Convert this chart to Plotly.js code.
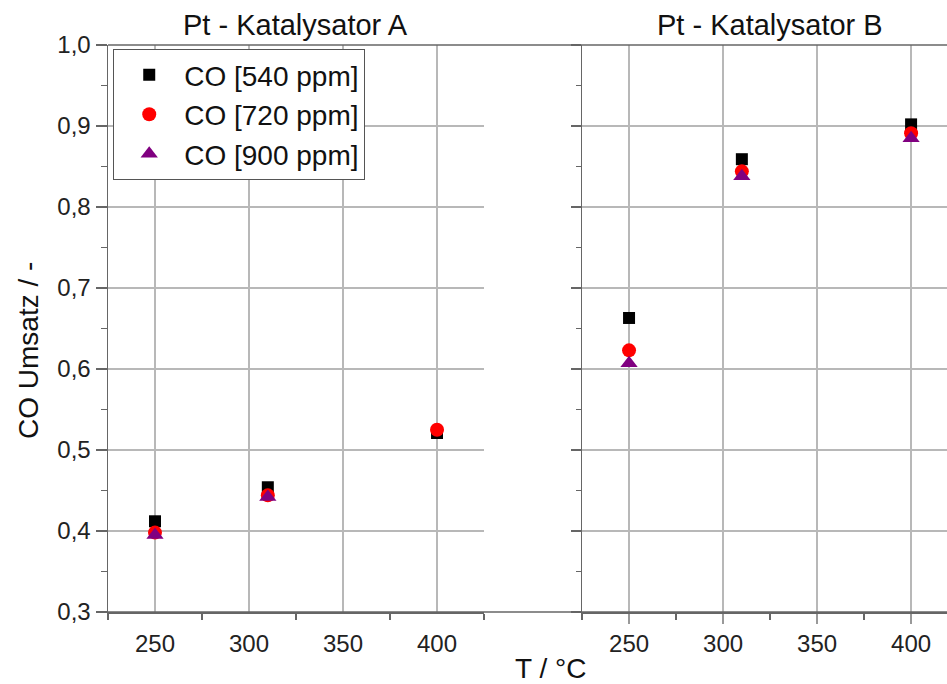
<!DOCTYPE html>
<html>
<head>
<meta charset="utf-8">
<script src="https://cdn.plot.ly/plotly-3.0.1.min.js"></script>
<style>html,body{margin:0;padding:0;background:#fff;}#chart{width:947px;height:684px;}</style>
</head>
<body>
<div id="chart"></div>
<script>
// Temperatures (°C)
const temps = [250, 310, 400];
// Series names
const seriesNames = ['CO [540 ppm]', 'CO [720 ppm]', 'CO [900 ppm]'];
// Pt - Katalysator A
const katA_540 = [0.412, 0.454, 0.521];
const katA_720 = [0.398, 0.444, 0.525];
const katA_900 = [0.395, 0.442, null];
// Pt - Katalysator B
const katB_540 = [0.663, 0.859, 0.902];
const katB_720 = [0.623, 0.844, 0.891];
const katB_900 = [0.607, 0.838, 0.885];
// Panel titles and axis titles
const panelTitles = ['Pt - Katalysator A', 'Pt - Katalysator B'];
const xTitle = 'T / °C';
const yTitle = 'CO Umsatz / -';

const font = 'Liberation Sans, Arial, sans-serif';
const markerStyles = [
  {symbol: 'square', color: '#000000', size: 12},
  {symbol: 'circle', color: '#ff0000', size: 14},
  {symbol: 'triangle-up', color: '#800080', size: 15}
];
const dataA = [katA_540, katA_720, katA_900];
const dataB = [katB_540, katB_720, katB_900];

const traces = [];
dataA.forEach((ys, i) => {
  traces.push({x: temps, y: ys, type: 'scatter', mode: 'markers', name: seriesNames[i],
    marker: {symbol: markerStyles[i].symbol, color: markerStyles[i].color, size: markerStyles[i].size, line: {width: 0}},
    xaxis: 'x', yaxis: 'y', showlegend: true, cliponaxis: false});
});
dataB.forEach((ys, i) => {
  traces.push({x: temps, y: ys, type: 'scatter', mode: 'markers', name: seriesNames[i],
    marker: {symbol: markerStyles[i].symbol, color: markerStyles[i].color, size: markerStyles[i].size, line: {width: 0}},
    xaxis: 'x2', yaxis: 'y2', showlegend: false, cliponaxis: false});
});

const gridColor = '#b8b8b8';
const lineColor = '#666666';
const tickFont = {family: font, size: 24, color: '#222'};
const xCommon = {
  tick0: 250, dtick: 50, showgrid: true, gridcolor: gridColor, gridwidth: 1.5,
  showline: true, linecolor: lineColor, linewidth: 1.5, zeroline: false,
  tickfont: tickFont,
  minor: {ticks: 'outside', ticklen: 6, tick0: 225, dtick: 50, tickcolor: lineColor, tickwidth: 1.2, showgrid: false}
};
const yCommon = {
  range: [0.3, 1.0], tick0: 0.3, dtick: 0.1, tickformat: '.1f', ticks: 'outside', ticklen: 11,
  tickcolor: lineColor, tickwidth: 1.2, showgrid: true, gridcolor: gridColor, gridwidth: 1.5,
  showline: true, linecolor: lineColor, linewidth: 1.5, zeroline: false,
  minor: {ticks: 'outside', ticklen: 6, tick0: 0.35, dtick: 0.1, tickcolor: lineColor, tickwidth: 1.2, showgrid: false},
  tickfont: tickFont
};

const layout = {
  width: 947, height: 684,
  margin: {l: 108, r: 0, t: 45, b: 72},
  paper_bgcolor: '#fff', plot_bgcolor: '#fff',
  separators: ',.',
  showlegend: true,
  xaxis: Object.assign({}, xCommon, {domain: [0, 0.4482], range: [225, 425], anchor: 'y', ticks: '', ticklabelstandoff: 10}),
  xaxis2: Object.assign({}, xCommon, {domain: [0.565, 1], range: [225, 419.1], anchor: 'y2', ticks: 'outside', ticklen: 10, tickcolor: '#999', tickwidth: 1.5, ticklabelstandoff: 0}),
  yaxis: Object.assign({}, yCommon, {anchor: 'x'}),
  yaxis2: Object.assign({}, yCommon, {anchor: 'x2', matches: 'y', showticklabels: false, ticklen: 10, minor: Object.assign({}, yCommon.minor, {ticklen: 5})}),
  legend: {x: 0.006, y: 0.993, xanchor: 'left', yanchor: 'top', bgcolor: '#fff',
    bordercolor: '#555', borderwidth: 1.2, itemwidth: 60, tracegroupgap: 0,
    font: {family: font, size: 28, color: '#111'}},
  shapes: [
    {type: 'line', xref: 'paper', yref: 'paper', x0: 0, x1: 1, y0: 1, y1: 1, line: {color: lineColor, width: 1.5}},
    {type: 'line', xref: 'paper', yref: 'paper', x0: 0, x1: 1, y0: 0, y1: 0, line: {color: lineColor, width: 1.5}}
  ],
  annotations: [
    {text: panelTitles[0], xref: 'paper', yref: 'paper', x: 0.2235, y: 1.035, xanchor: 'center', yanchor: 'middle', showarrow: false, font: {family: font, size: 29, color: '#111'}},
    {text: panelTitles[1], xref: 'paper', yref: 'paper', x: 0.789, y: 1.035, xanchor: 'center', yanchor: 'middle', showarrow: false, font: {family: font, size: 29, color: '#111'}},
    {text: xTitle, xref: 'paper', yref: 'paper', x: 0.527, y: -0.0988, xanchor: 'center', yanchor: 'middle', showarrow: false, font: {family: font, size: 28, color: '#111'}},
    {text: yTitle, xref: 'paper', yref: 'paper', x: -0.0954, y: 0.462, xanchor: 'center', yanchor: 'middle', textangle: -90, showarrow: false, font: {family: font, size: 28, color: '#111'}}
  ]
};

Plotly.newPlot('chart', traces, layout, {displayModeBar: false, staticPlot: true});
</script>
</body>
</html>
